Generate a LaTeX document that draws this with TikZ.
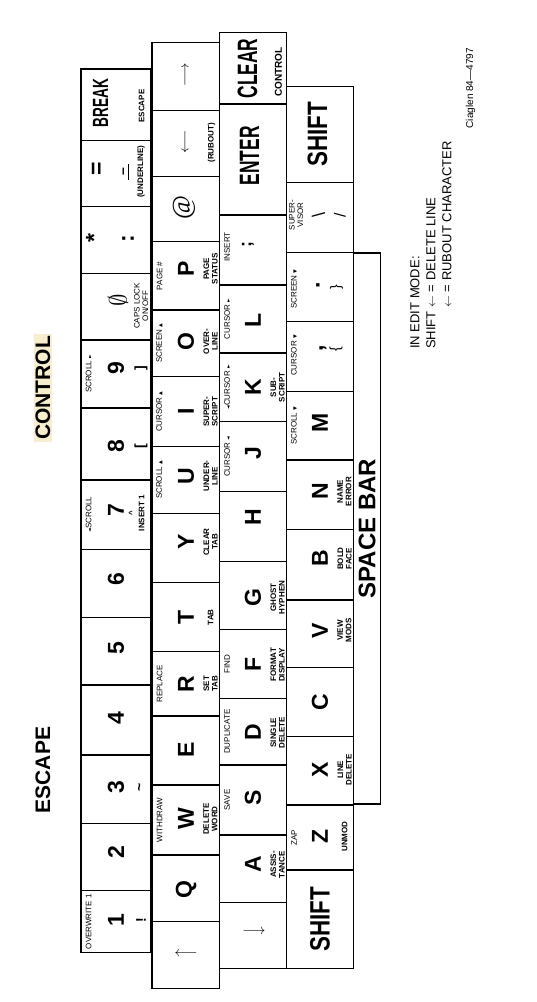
\documentclass[tikz,border=0pt]{standalone}
\usepackage{fontspec}
\usepackage{graphicx}
\setmainfont{Liberation Sans}
\newfontfamily\symfont{DejaVu Sans}
\newfontfamily\atfont{Liberation Serif}
\newfontfamily\legendfont[FakeStretch=0.62]{Liberation Sans}
\newfontfamily\shiftfont[FakeStretch=0.8]{Liberation Sans}
\definecolor{marker}{RGB}{247,238,205}
\newcommand{\tu}{\scalebox{0.6}{\symfont ▲}}
\newcommand{\td}{\scalebox{0.6}{\symfont ▼}}
\newcommand{\tl}{\scalebox{0.6}{\symfont ◄}}
\newcommand{\tr}{\scalebox{0.6}{\symfont ►}}

\begin{document}
\begin{tikzpicture}[x=1pt,y=-1pt,
    every node/.style={rotate=90, inner sep=0pt, align=center},
    keyline/.style={line width=1.1pt},
    big/.style={font=\fontsize{23}{23}\selectfont\bfseries},
    toplabel/.style={font=\fontsize{8}{8.5}\selectfont},
    sublabel/.style={font=\fontsize{8}{8.5}\selectfont\bfseries},
    subsym/.style={font=\fontsize{14}{14}\selectfont\bfseries},
    legend/.style={font=\legendfont\fontsize{28}{28}\selectfont\bfseries},
    shiftkey/.style={font=\shiftfont\fontsize{28}{28}\selectfont\bfseries},
    arrowsym/.style={font=\fontsize{15}{15}\selectfont},
    title/.style={font=\fontsize{21}{21}\selectfont\bfseries},
    note/.style={font=\fontsize{13}{16}\selectfont, align=left}]

\useasboundingbox (0,0) rectangle (536,1002);

% headings
\node[title, fill=marker, inner sep=2pt] (control) at (43,388) {CONTROL};
\node[title] (escape) at (43,770) {ESCAPE};

% number row
\draw[keyline] (81,69) rectangle (151,140.7);
\node[legend, font=\legendfont\fontsize{22}{22}\selectfont\bfseries] (kbreak) at (100.5,103) {BREAK};
\node[sublabel] (kbreak-s) at (141.5,106) {ESCAPE};
\draw[keyline] (81,140.7) rectangle (151,206.7);
\node[big] (keq) at (98,168.5) {=};
\node[subsym] (kdash) at (126,172) {\underline{\hspace{4pt}--\hspace{4pt}}};
\node[sublabel] (keq-s) at (141,171.7) {(UNDERLINE)};
\draw[keyline] (81,206.7) rectangle (151,273.3);
\node[big] (kstar) at (94,238) {*};
\node[big] (kcolon) at (128,238.5) {:};
\draw[keyline] (81,273.3) rectangle (151,340);
\node[font=\fontsize{30}{30}\selectfont] (kzero) at (118,300) {$\emptyset$};
\node[toplabel] (kzero-s) at (141,306) {CAPS LOCK\\ON/OFF};
\foreach \ya/\yb/\ch/\tp/\sb/\dy in {340/408/9/SCROLL \tr/]/-6, 408/480/8//[/2,
    480/549.3/7/\tl SCROLL//-5, 549.3/617.3/6///-4, 617.3/685/5///-3,
    685/755/4///-2, 755/823.3/3//\textasciitilde/-2, 823.3/890.7/2///-5,
    890.7/952.7/1/OVERWRITE 1/!/-2}
{
  \draw[keyline] (81,\ya) rectangle (151,\yb);
  \node[big] (k\ch) at (116,{(\ya+\yb)/2+\dy}) {\ch};
  \node[toplabel] (k\ch-t) at (88.5,{(\ya+\yb)/2}) {\tp};
  \node[subsym] (k\ch-s) at (141,{(\ya+\yb)/2+\dy}) {\sb};
}
\node[sublabel] (kcaret) at (131.7,513) {\textasciicircum};
\node[sublabel] (kins1) at (141.5,513) {INSERT 1};

% second row
\draw[keyline] (152,42.7) rectangle (219.5,110.7);
\node[arrowsym] (kright) at (186,75) {$\longrightarrow$};
\draw[keyline] (152,110.7) rectangle (219.5,176.7);
\node[arrowsym] (kleft) at (186,141.5) {$\longleftarrow$};
\node[sublabel] (kleft-s) at (211.5,142.7) {(RUBOUT)};
\draw[keyline] (152,176.7) rectangle (219.5,241.7);
\node[font=\atfont\fontsize{26}{26}\selectfont] (kat) at (184,208) {@};
\foreach \ya/\yb/\ch/\tp/\sb/\dy in {241.7/310/P/PAGE \#/PAGE\\STATUS/-7,
    310/376.7/O/SCREEN \tu/OVER-\\LINE/-2, 376.7/446.7/I/CURSOR \tu/SUPER-\\SCRIPT/0,
    446.7/513.3/U/SCROLL \tu/UNDER-\\LINE/-4, 513.3/582.7/Y//CLEAR\\TAB/-6,
    582.7/651.7/T//TAB/0, 651.7/716/R/REPLACE/SET\\TAB/0, 716/785/E///-1,
    785/855/W/WITHDRAW/DELETE\\WORD/-1, 855/921.7/Q///1}
{
  \draw[keyline] (152,\ya) rectangle (219.5,\yb);
  \node[big] (k\ch) at (186,{(\ya+\yb)/2+\dy}) {\ch};
  \node[toplabel] (k\ch-t) at (159.5,{(\ya+\yb)/2}) {\tp};
  \node[sublabel] (k\ch-s) at (210.5,{(\ya+\yb)/2+\dy}) {\sb};
}
\draw[keyline] (152,921.7) rectangle (219.5,988.3);
\node[arrowsym, rotate=90] (kup) at (186,952) {$\longrightarrow$};

% third row
\draw[keyline] (219.5,32.3) rectangle (286.5,104);
\node[legend] (kclear) at (247.5,68.5) {CLEAR};
\node[sublabel, font=\fontsize{10}{10}\selectfont\bfseries] (kclear-s) at (278.5,72) {CONTROL};
\draw[keyline] (219.5,104) rectangle (286.5,215);
\node[legend] (kenter) at (249.5,155.7) {ENTER};
\draw[keyline] (219.5,215) rectangle (286.5,285);
\node[toplabel] (ksemi-t) at (227,247) {INSERT};
\node[big, font=\fontsize{18}{18}\selectfont\bfseries] (ksemi) at (248,244) {;};
\foreach \ya/\yb/\ch/\tp/\sb/\dy in {285/353/L/CURSOR \tr//1,
    353/421.7/K/\tl CURSOR \tr/SUB-\\SCRIPT/0, 421.7/491.7/J/CURSOR \tl//-4,
    491.7/561.7/H///-10, 561.7/629.3/G//GHOST\\HYPHEN/2,
    629.3/698.3/F/FIND/FORMAT\\DISPLAY/1, 698.3/765/D/DUPLICATE/SINGLE\\DELETE/1,
    765/835/S/SAVE//-2, 835/902.3/A//ASSIS-\\TANCE/-4}
{
  \draw[keyline] (219.5,\ya) rectangle (286.5,\yb);
  \node[big] (k\ch) at (253,{(\ya+\yb)/2+\dy}) {\ch};
  \node[toplabel] (k\ch-t) at (227,{(\ya+\yb)/2}) {\tp};
  \node[sublabel] (k\ch-s) at (277.5,{(\ya+\yb)/2+\dy}) {\sb};
}
\draw[keyline] (219.5,902.3) rectangle (286.5,968.3);
\node[arrowsym, rotate=-90] (kdown) at (254,932) {$\longrightarrow$};

% fourth row
\draw[keyline] (286.5,86.7) rectangle (353.5,182.7);
\node[shiftkey] (kshiftr) at (317.5,134.5) {SHIFT};
\draw[keyline] (286.5,182.7) rectangle (353.5,252.3);
\node[toplabel] (ksup-t) at (296,215) {SUPER-\\VISOR};
\node[subsym, font=\fontsize{18}{18}\selectfont] (kbslash) at (318.5,214.5) {\textbackslash};
\node[subsym, font=\fontsize{16}{16}\selectfont] (kslash) at (340,215) {/};
\draw[keyline] (286.5,252.3) rectangle (353.5,321.7);
\node[toplabel] (kdot-t) at (294,289) {SCREEN \td};
\node[big] (kdot) at (318,285) {.};
\node[subsym, font=\fontsize{14}{14}\selectfont] (kdot-s) at (336.5,287) {\}};
\draw[keyline] (286.5,321.7) rectangle (353.5,391.7);
\node[toplabel] (kcomma-t) at (294,355.5) {CURSOR \td};
\node[big] (kcomma) at (323,348) {,};
\node[subsym, font=\fontsize{14}{14}\selectfont] (kcomma-s) at (336,349.5) {\{};
\foreach \ya/\yb/\ch/\tp/\sb/\dy in {391.7/460/M/SCROLL \td//-3,
    460/529.3/N//NAME\\ERROR/-3, 529.3/600/B//BOLD\\FACE/-6,
    600/667.3/V//VIEW\\MODS/-3, 667.3/736.7/C///0,
    736.7/805/X//LINE\\DELETE/-1, 805/870/Z/ZAP/UNMOD/-1}
{
  \draw[keyline] (286.5,\ya) rectangle (353.5,\yb);
  \node[big] (k\ch) at (320,{(\ya+\yb)/2+\dy}) {\ch};
  \node[toplabel] (k\ch-t) at (294,{(\ya+\yb)/2}) {\tp};
  \node[sublabel] (k\ch-s) at (344.5,{(\ya+\yb)/2+\dy}) {\sb};
}
\draw[keyline] (286.5,870) rectangle (353.5,968.3);
\node[shiftkey] (kshiftl) at (320,919) {SHIFT};

% space bar
\draw[keyline] (353.5,253) rectangle (380.5,804);
\node[font=\fontsize{24}{24}\selectfont\bfseries] (space) at (367,528.5) {SPACE BAR};

% notes
\node[note, anchor=north west] (edit) at (410,349)
  {IN EDIT MODE:\\SHIFT $\leftarrow$ = DELETE LINE\\\hphantom{SHIFT }$\leftarrow$ = RUBOUT CHARACTER};
\node[font=\fontsize{10}{10}\selectfont, anchor=west] (credit) at (470.5,128.5) {Ciaglen 84---4797};
\end{tikzpicture}
\end{document}
